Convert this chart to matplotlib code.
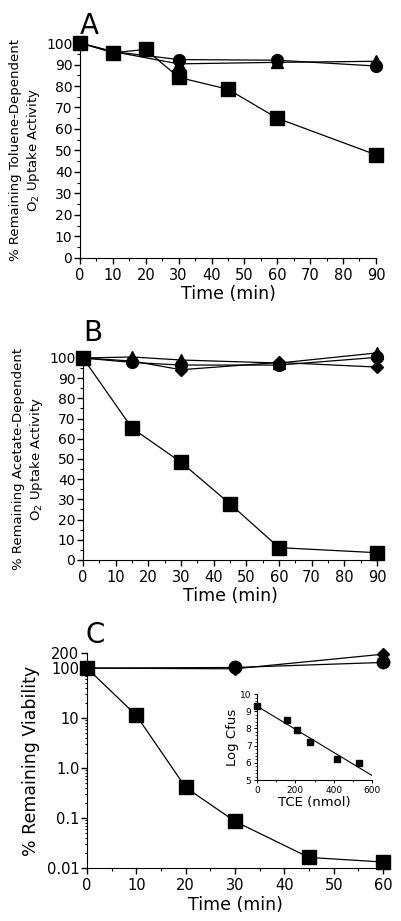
import numpy as np
import matplotlib
matplotlib.use('Agg')
import matplotlib.pyplot as plt
from matplotlib.ticker import MultipleLocator, FixedLocator, NullFormatter, LogLocator

plt.rcParams['font.family'] = ['DejaVu Sans']

# Panel A: toluene-dependent O2 uptake
a_sq_t = [0, 10, 20, 30, 45, 60, 90]
a_sq_y = [100, 95.5, 97, 84, 78.5, 65, 48]
a_ci_t = [0, 10, 30, 60, 90]
a_ci_y = [100, 96, 92.3, 92, 89.3]
a_tr_t = [0, 10, 30, 60, 90]
a_tr_y = [100, 96, 90.3, 91, 91.5]

# Panel B: acetate-dependent O2 uptake
b_t = [0, 15, 30, 45, 60, 90]
b_sq_y = [100, 65.3, 48.4, 27.8, 6.1, 3.6]
b_ci_t = [0, 15, 30, 60, 90]
b_ci_y = [100, 97.8, 96.5, 96.5, 100.3]
b_tr_t = [0, 15, 30, 60, 90]
b_tr_y = [100, 100.5, 99, 97.5, 102.5]
b_di_t = [0, 15, 30, 60, 90]
b_di_y = [100, 98.5, 94.2, 97.8, 95.5]

# Panel C: viability (log)
c_sq_t = [0, 10, 20, 30, 45, 60]
c_sq_y = [100, 11.3, 0.41, 0.086, 0.0163, 0.0132]
c_ci_t = [0, 30, 60]
c_ci_y = [100, 103, 130]
c_di_t = [0, 30, 60]
c_di_y = [100, 97, 190]

# Inset: log cfus vs TCE
tce = [0, 154, 210, 278, 416, 530]
log_cfu = [9.3, 8.49, 7.91, 7.19, 6.2, 6.02]
fit_x = [0, 600]

fig = plt.figure(figsize=(4.01, 9.21), dpi=100)


def style(ax, xfs=10.5, yfs=10):
    ax.spines['top'].set_visible(False)
    ax.spines['right'].set_visible(False)
    ax.tick_params(axis='both', which='major', direction='out', length=4, width=1)
    ax.tick_params(axis='both', which='minor', direction='out', length=2.5, width=0.8)
    ax.tick_params(axis='x', labelsize=xfs, pad=3)
    ax.tick_params(axis='y', labelsize=yfs, pad=1.5)


def series(ax, x, y, marker, ms):
    ax.plot(x, y, color='black', lw=0.9, marker=marker, ms=ms,
            markerfacecolor='black', markeredgecolor='black', clip_on=False, zorder=3)


# ---- A ----
axA = fig.add_axes([0.1995, 0.7199, 0.738, 0.2334])
series(axA, a_tr_t, a_tr_y, '^', 8)
series(axA, a_ci_t, a_ci_y, 'o', 8.5)
series(axA, a_sq_t, a_sq_y, 's', 10)
axA.set_xlim(0, 90)
axA.set_ylim(0, 100)
axA.xaxis.set_major_locator(MultipleLocator(10))
axA.xaxis.set_minor_locator(MultipleLocator(5))
axA.yaxis.set_major_locator(MultipleLocator(10))
axA.yaxis.set_minor_locator(MultipleLocator(5))
style(axA)
axA.set_xlabel('Time (min)', fontsize=12.5, labelpad=2)
axA.set_ylabel('% Remaining Toluene-Dependent\nO$_2$ Uptake Activity', fontsize=9.5, labelpad=3)
fig.text(0.20, 0.972, 'A', fontsize=20, va='center', ha='left')

# ---- B ----
axB = fig.add_axes([0.207, 0.392, 0.733, 0.2193])
series(axB, b_tr_t, b_tr_y, '^', 8)
series(axB, b_di_t, b_di_y, 'D', 6.5)
series(axB, b_ci_t, b_ci_y, 'o', 8.5)
series(axB, b_t, b_sq_y, 's', 10)
axB.set_xlim(0, 90)
axB.set_ylim(0, 100)
axB.xaxis.set_major_locator(MultipleLocator(10))
axB.xaxis.set_minor_locator(MultipleLocator(5))
axB.yaxis.set_major_locator(MultipleLocator(10))
axB.yaxis.set_minor_locator(MultipleLocator(5))
style(axB)
axB.set_xlabel('Time (min)', fontsize=12.5, labelpad=2)
axB.set_ylabel('% Remaining Acetate-Dependent\nO$_2$ Uptake Activity', fontsize=9.5, labelpad=3)
fig.text(0.207, 0.638, 'B', fontsize=20, va='center', ha='left')

# ---- C ----
axC = fig.add_axes([0.217, 0.0575, 0.738, 0.2334])
series(axC, c_di_t, c_di_y, 'D', 6.5)
series(axC, c_ci_t, c_ci_y, 'o', 9)
series(axC, c_sq_t, c_sq_y, 's', 10)
axC.set_yscale('log')
axC.set_xlim(0, 60)
axC.set_ylim(0.01, 200)
axC.xaxis.set_major_locator(MultipleLocator(10))
axC.xaxis.set_minor_locator(MultipleLocator(5))
c_ticks = [0.01, 0.1, 1.0, 10, 100, 200]
axC.yaxis.set_major_locator(FixedLocator(c_ticks))
axC.set_yticklabels(['0.01', '0.1', '1.0', '10', '100', '200'])
axC.yaxis.set_minor_locator(LogLocator(base=10, subs=np.arange(2, 10) * 1.0))
axC.yaxis.set_minor_formatter(NullFormatter())
style(axC, yfs=10.5)
axC.tick_params(axis='y', which='minor', length=1.5)
axC.set_xlabel('Time (min)', fontsize=12.5, labelpad=2)
axC.set_ylabel('% Remaining Viability', fontsize=12.5, labelpad=5)
fig.text(0.212, 0.311, 'C', fontsize=20, va='center', ha='left')

# ---- inset ----
axI = fig.add_axes([0.641, 0.153, 0.287, 0.0934])
coef = np.polyfit(tce, log_cfu, 1)
axI.plot(fit_x, np.polyval(coef, fit_x), color='black', lw=0.8)
axI.plot(tce, log_cfu, 's', color='black', ms=4.5, clip_on=False)
axI.set_xlim(0, 600)
axI.set_ylim(5, 10)
axI.xaxis.set_major_locator(MultipleLocator(200))
axI.xaxis.set_minor_locator(MultipleLocator(100))
axI.yaxis.set_major_locator(MultipleLocator(1))
axI.yaxis.set_minor_locator(MultipleLocator(0.2))
axI.spines['top'].set_visible(False)
axI.spines['right'].set_visible(False)
axI.tick_params(axis='both', which='major', direction='out', length=2.5, width=0.7, labelsize=6.5, pad=1.5)
axI.tick_params(axis='both', which='minor', direction='out', length=1.2, width=0.5)
axI.set_xlabel('TCE (nmol)', fontsize=9.5, labelpad=1)
axI.set_ylabel('Log Cfus', fontsize=9.5, labelpad=1)

fig.savefig('out.png', dpi=100)
